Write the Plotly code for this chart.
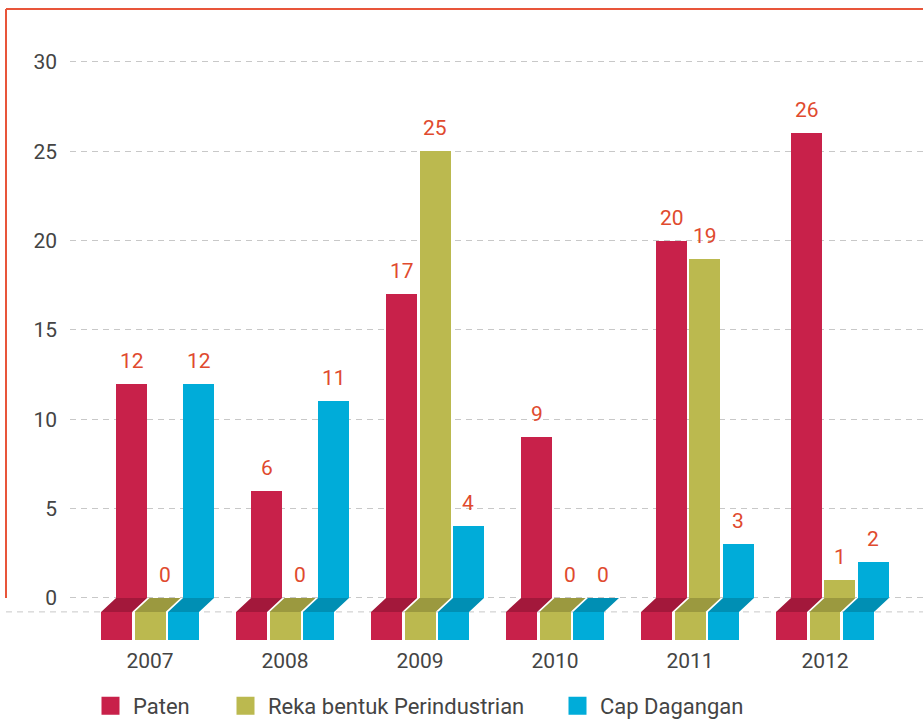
import plotly.graph_objects as go

years = ["2007", "2008", "2009", "2010", "2011", "2012"]
series_names = ["Paten", "Reka bentuk Perindustrian", "Cap Dagangan"]
paten = [12, 6, 17, 9, 20, 26]
reka_bentuk = [0, 0, 25, 0, 19, 1]
cap_dagangan = [12, 11, 4, 0, 3, 2]

series_values = [paten, reka_bentuk, cap_dagangan]
face_colors = ["#c8214a", "#bbb94f", "#00acd9"]
top_colors = ["#a3183b", "#9b993f", "#008fb4"]
label_color = "#e04a2e"
border_color = "#e8553a"
font_family = "Roboto"
text_color = "#444444"

W, H = 923, 722
ML, MR, MT, MB = 70, 0, 20, 81
plot_w, plot_h = W - ML - MR, H - MT - MB

# pixel scale: 135 px per year, 17.87 px per unit
x_range = [-0.593, 5.726]
y_range = [-2.41, 32.35]

bar_w = 0.2296
step = 0.248
dx = 0.111    # 3d shift to the right
dy = 0.78     # 3d shift downwards
block_h = 1.57

def px_x(px):
    return (px - ML) / plot_w

def px_y(py):
    return (H - MB - py) / plot_h

legend_ids = ["legend", "legend2", "legend3"]
legend_left_px = [88, 223, 555]

xs = list(range(len(years)))
fig = go.Figure()

for i, (name, vals) in enumerate(zip(series_names, series_values)):
    off = -bar_w / 2 + (i - 1) * step
    # front block of the pedestal
    fig.add_trace(go.Bar(x=xs, y=[-block_h] * len(xs), base=-dy, width=bar_w, offset=off,
                         marker_color=face_colors[i], marker_line_width=0,
                         showlegend=False, hoverinfo="skip"))
    # top face of the pedestal
    px_, py_ = [], []
    for k in xs:
        xl = k + off
        xr = xl + bar_w
        px_ += [xl, xr, xr + dx, xl + dx, xl, None]
        py_ += [-dy, -dy, 0, 0, -dy, None]
    fig.add_trace(go.Scatter(x=px_, y=py_, fill="toself", fillcolor=top_colors[i],
                             mode="lines", line_width=0, showlegend=False, hoverinfo="skip"))
    # the value bar
    fig.add_trace(go.Bar(x=xs, y=vals, width=bar_w, offset=off + dx,
                         marker_color=face_colors[i], marker_line_width=0,
                         showlegend=False, hoverinfo="skip"))
    # legend proxy
    fig.add_trace(go.Scatter(x=[None], y=[None], mode="markers", name=name, legend=legend_ids[i],
                             marker=dict(symbol="square", size=16, color=face_colors[i],
                                         line=dict(width=2, color=face_colors[i]))))
    for k, v in zip(xs, vals):
        fig.add_annotation(x=k + off + dx + bar_w / 2, y=v, text=str(v), showarrow=False,
                           yanchor="bottom", yshift=9,
                           font=dict(family=font_family, size=21, color=label_color))

base_y = (-dy - y_range[0]) / (y_range[1] - y_range[0])
shapes = [
    # second dashed line under the pedestals
    dict(type="line", xref="paper", yref="paper", x0=px_x(6), x1=1, y0=base_y, y1=base_y,
         line=dict(color="#c8c8c8", width=1, dash="6px,5px"), layer="below"),
    # red frame
    dict(type="line", xref="paper", yref="paper", x0=px_x(6), x1=1.01, y0=px_y(9), y1=px_y(9),
         line=dict(color=border_color, width=2)),
    dict(type="line", xref="paper", yref="paper", x0=px_x(6), x1=px_x(6), y0=px_y(9), y1=px_y(598),
         line=dict(color=border_color, width=2)),
]

legend_style = dict(orientation="h", xanchor="left", yanchor="middle", y=px_y(706),
                    itemwidth=35, font=dict(family=font_family, size=22, color=text_color),
                    bgcolor="rgba(0,0,0,0)")
legends = {lid: dict(legend_style, x=px_x(lx)) for lid, lx in zip(legend_ids, legend_left_px)}

fig.update_layout(
    width=W, height=H,
    margin=dict(l=ML, r=MR, t=MT, b=MB, autoexpand=False),
    plot_bgcolor="white", paper_bgcolor="white",
    barmode="overlay", bargap=0,
    font=dict(family=font_family, size=21, color=text_color),
    shapes=shapes,
    showlegend=True,
    **legends,
)
fig.update_xaxes(range=x_range, tickmode="array", tickvals=xs, ticktext=years,
                 showgrid=False, zeroline=False, showline=False, ticks="",
                 ticklabelstandoff=5,
                 tickfont=dict(family=font_family, size=21, color=text_color), fixedrange=True)
fig.update_yaxes(range=y_range, tick0=0, dtick=5, showgrid=True, gridcolor="#c8c8c8",
                 griddash="6px,5px", gridwidth=1, zeroline=False, showline=False, ticks="",
                 ticklabelstandoff=12,
                 tickfont=dict(family=font_family, size=21, color=text_color), fixedrange=True)

fig.write_html("out.html", config={"displayModeBar": False},
               post_script="document.body.style.margin='0';")
